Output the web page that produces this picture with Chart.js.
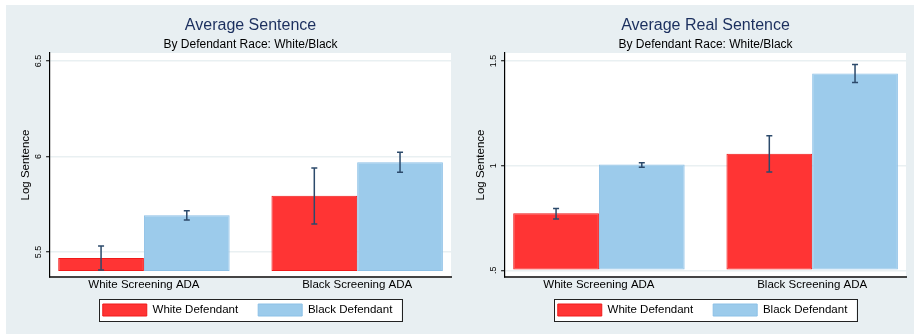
<!DOCTYPE html>
<html>
<head>
<meta charset="utf-8">
<script src="https://cdn.jsdelivr.net/npm/chart.js@4/dist/chart.umd.min.js"></script>
<style>
  html, body { margin: 0; padding: 0; background: #fff; }
  #bg { position: absolute; left: 6px; top: 5px; width: 908px; height: 329px; background: #e8eff2; }
  canvas { position: absolute; top: 5px; }
  #left { left: 6px; }
  #right { left: 461px; }
</style>
</head>
<body>
<div id="bg"></div>
<canvas id="left" width="453" height="329"></canvas>
<canvas id="right" width="453" height="329"></canvas>
<script>
var categories = ['White Screening ADA', 'Black Screening ADA'];
var seriesNames = ['White Defendant', 'Black Defendant'];

// Average Sentence (log)
var avgWhite = [5.469, 5.795];
var avgBlack = [5.692, 5.970];
var avgWhiteLo = [5.406, 5.647];
var avgWhiteHi = [5.531, 5.940];
var avgBlackLo = [5.668, 5.917];
var avgBlackHi = [5.716, 6.022];
var avgTicks = [5.5, 6, 6.5];
var avgTickLabels = ['5.5', '6', '6.5'];

// Average Real Sentence (log)
var realWhite = [0.773, 1.057];
var realBlack = [1.005, 1.440];
var realWhiteLo = [0.745, 0.970];
var realWhiteHi = [0.795, 1.143];
var realBlackLo = [0.992, 1.397];
var realBlackHi = [1.014, 1.483];
var realTicks = [0.5, 1, 1.5];
var realTickLabels = ['.5', '1', '1.5'];

var FONT = "'Liberation Sans', Arial, sans-serif";
Chart.defaults.font.family = FONT;
Chart.defaults.color = '#000';

// pull the legend up under the axis labels (keeps the wide item gap)
var legendShift = {
    id: 'legendShift',
    afterUpdate: function (chart) {
        var lg = chart.legend, dy = -9, dx = -3;
        lg.top += dy; lg.bottom += dy;
        lg.left += dx; lg.right += dx;
        lg.legendHitBoxes.forEach(function (h) { h.top += dy; h.left += dx; });
    }
};

// white plot region + white legend frame
var panelBg = {
    id: 'panelBg',
    beforeDraw: function (chart) {
        var ctx = chart.ctx, a = chart.chartArea;
        ctx.save();
        ctx.fillStyle = '#fff';
        ctx.fillRect(a.left, a.top, a.right - a.left, a.bottom - a.top);
        var hb = chart.legend.legendHitBoxes;
        if (hb && hb.length) {
            var first = hb[0], last = hb[hb.length - 1];
            var x0 = first.left - 4, x1 = last.left + last.width + 9;
            var y0 = first.top - 5, y1 = first.top + first.height + 5;
            ctx.fillRect(x0, y0, x1 - x0, y1 - y0);
            ctx.strokeStyle = '#222';
            ctx.lineWidth = 1;
            ctx.strokeRect(Math.round(x0) + 0.5, Math.round(y0) + 0.5, Math.round(x1 - x0), Math.round(y1 - y0));
        }
        ctx.restore();
    }
};

// confidence interval whiskers
var errorBars = {
    id: 'errorBars',
    afterDatasetsDraw: function (chart) {
        var ctx = chart.ctx, ys = chart.scales.y;
        ctx.save();
        ctx.strokeStyle = '#2c4a6b';
        ctx.lineWidth = 1.5;
        chart.data.datasets.forEach(function (ds, i) {
            var meta = chart.getDatasetMeta(i);
            meta.data.forEach(function (bar, j) {
                var x = bar.x;
                var yl = ys.getPixelForValue(ds.errLo[j]);
                var yh = ys.getPixelForValue(ds.errHi[j]);
                ctx.beginPath();
                ctx.moveTo(x, yl); ctx.lineTo(x, yh);
                ctx.moveTo(x - 3, yl); ctx.lineTo(x + 3, yl);
                ctx.moveTo(x - 3, yh); ctx.lineTo(x + 3, yh);
                ctx.stroke();
            });
        });
        ctx.restore();
    }
};

function makeChart(id, title, white, black, wLo, wHi, bLo, bHi, yTicks, yTickLabels, yMin, yMax, yBase) {
    var toPts = function (arr) {
        return arr.map(function (v, i) { return {x: i, y: v}; });
    };
    var ctx = document.getElementById(id).getContext('2d');
    return new Chart(ctx, {
        type: 'bar',
        data: {
            datasets: [
                {
                    label: seriesNames[0],
                    data: toPts(white),
                    errLo: wLo, errHi: wHi,
                    base: yBase,
                    backgroundColor: '#ff3434',
                    borderColor: '#f01a1a',
                    borderWidth: 1,
                    borderSkipped: false
                },
                {
                    label: seriesNames[1],
                    data: toPts(black),
                    errLo: bLo, errHi: bHi,
                    base: yBase,
                    backgroundColor: '#9ccbeb',
                    borderColor: '#8cc0e6',
                    borderWidth: 1,
                    borderSkipped: false
                }
            ]
        },
        options: {
            responsive: false,
            animation: false,
            events: [],
            categoryPercentage: 0.804,
            barPercentage: 1,
            layout: { padding: { left: 0, right: 8, top: 0, bottom: -1 } },
            plugins: {
                title: {
                    display: true,
                    text: title,
                    fullSize: false,
                    color: '#1b2f5e',
                    font: { size: 16, weight: 'normal' },
                    padding: { top: 10.6, bottom: 2.5 }
                },
                subtitle: {
                    display: true,
                    text: 'By Defendant Race: White/Black',
                    fullSize: false,
                    color: '#000',
                    font: { size: 12 },
                    padding: { top: 0, bottom: 1.3 }
                },
                legend: {
                    position: 'bottom',
                    fullSize: false,
                    labels: {
                        boxWidth: 44,
                        boxHeight: 12,
                        padding: 20,
                        color: '#000',
                        font: { size: 11.5 }
                    }
                },
                tooltip: { enabled: false }
            },
            scales: {
                x: {
                    type: 'linear',
                    min: -0.44,
                    max: 1.44,
                    offset: false,
                    grid: { display: false, drawTicks: false, offset: false },
                    border: { display: true, color: '#444', width: 2 },
                    afterBuildTicks: function (s) {
                        s.ticks = categories.map(function (c, i) { return {value: i}; });
                    },
                    afterFit: function (s) { s.height = 16; },
                    ticks: {
                        autoSkip: false,
                        maxRotation: 0,
                        padding: 1,
                        color: '#000',
                        font: { size: 11.5 },
                        callback: function (v) { return categories[v]; }
                    }
                },
                y: {
                    min: yMin,
                    max: yMax,
                    beginAtZero: false,
                    afterBuildTicks: function (s) {
                        s.ticks = yTicks.map(function (v) { return {value: v}; });
                    },
                    grid: {
                        color: '#e9f0f2',
                        lineWidth: 1.5,
                        drawTicks: true,
                        tickLength: 4,
                        tickColor: '#000',
                        tickWidth: 1
                    },
                    border: { display: true, color: '#000', width: 1.2 },
                    ticks: {
                        minRotation: 90,
                        maxRotation: 90,
                        crossAlign: 'center',
                        padding: 1,
                        color: '#000',
                        font: { size: 9 },
                        callback: function (v, i) { return yTickLabels[i]; }
                    },
                    title: {
                        display: true,
                        text: 'Log Sentence',
                        color: '#000',
                        font: { size: 11.5 },
                        padding: { top: 13, bottom: 0.5 }
                    }
                }
            }
        },
        plugins: [legendShift, panelBg, errorBars]
    });
}

makeChart('left', 'Average Sentence', avgWhite, avgBlack, avgWhiteLo, avgWhiteHi, avgBlackLo, avgBlackHi,
    avgTicks, avgTickLabels, 5.369, 6.542, 5.4);
makeChart('right', 'Average Real Sentence', realWhite, realBlack, realWhiteLo, realWhiteHi, realBlackLo, realBlackHi,
    realTicks, realTickLabels, 0.468, 1.538, 0.5);
</script>
</body>
</html>
